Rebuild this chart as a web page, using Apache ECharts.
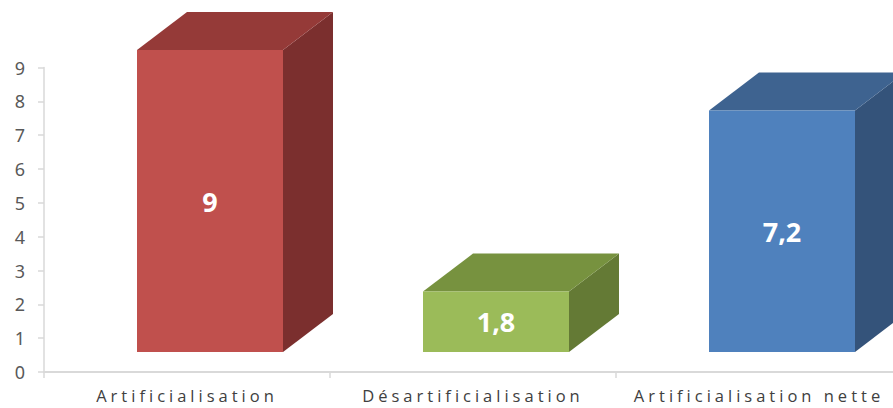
<!DOCTYPE html>
<html>
<head>
<meta charset="utf-8">
<script src="https://cdn.jsdelivr.net/npm/echarts@6/dist/echarts.min.js"></script>
<style>
  html, body { margin: 0; padding: 0; background: #fff; }
  #c { width: 893px; height: 408px; }
  #c text[style*="Open Sans"], #c text[font-family*="Open Sans"] { letter-spacing: 4px; }
</style>
</head>
<body>
<div id="c"></div>
<script>
const categories = ['Artificialisation', 'Désartificialisation', 'Artificialisation nette'];
const values = [9, 1.8, 7.2];
const valueLabels = ['9', '1,8', '7,2'];
const yTicks = ['0','1','2','3','4','5','6','7','8','9'];

const palette = [
  { front: '#C0504D', top: '#953A38', side: '#7B2F2E' },
  { front: '#9BBB59', top: '#77923F', side: '#647A35' },
  { front: '#4F81BD', top: '#3E6390', side: '#34537A' }
];

const chart = echarts.init(document.getElementById('c'), null, { renderer: 'svg' });

const DX = 50, DY = -38, LIFT = 20, SCALE = 302 / 304.5;

chart.setOption({
  animation: false,
  grid: { left: 44, width: 858, top: 67.5, bottom: 36, outerBoundsMode: 'none' },
  xAxis: {
    type: 'category',
    data: categories,
    axisLine: { lineStyle: { color: '#D9D9D9', width: 2 } },
    axisTick: { show: true, length: 6, lineStyle: { color: '#D9D9D9', width: 1.5 } },
    axisLabel: { color: '#404040', fontSize: 16.5, fontFamily: 'Open Sans', margin: 15, interval: 0 }
  },
  yAxis: {
    type: 'value',
    min: 0, max: 9, interval: 1,
    axisLine: { show: true, lineStyle: { color: '#D9D9D9', width: 1.5 } },
    axisTick: { show: true, length: 6, lineStyle: { color: '#D9D9D9', width: 1.5 } },
    splitLine: { show: false },
    axisLabel: { color: '#595959', fontSize: 18, fontFamily: 'Noto Sans', margin: 19,
      formatter: (v) => yTicks[v] !== undefined ? yTicks[v] : String(v) }
  },
  series: [{
    type: 'custom',
    clip: false,
    data: values.map((v, i) => [i, v]),
    renderItem: function (params, api) {
      const i = api.value(0);
      const v = api.value(1);
      const p0 = api.coord([i, 0]);
      const p1 = api.coord([i, v]);
      const cx = p0[0];
      const bottom = p0[1] - LIFT;
      const top = bottom - (p0[1] - p1[1]) * SCALE;
      const left = cx - 50, right = cx + 96;
      const c = palette[i];
      return {
        type: 'group',
        children: [
          { type: 'polygon', shape: { points: [[right, top], [right + DX, top + DY], [right + DX, bottom + DY], [right, bottom]] },
            style: { fill: c.side } },
          { type: 'polygon', shape: { points: [[left, top], [left + DX, top + DY], [right + DX, top + DY], [right, top]] },
            style: { fill: c.top } },
          { type: 'rect', shape: { x: left, y: top, width: right - left, height: bottom - top },
            style: { fill: c.front } },
          { type: 'text', x: (left + right) / 2, y: (top + bottom) / 2,
            style: { text: valueLabels[i], fill: '#fff', fontSize: 27, fontWeight: 'bold', fontFamily: 'Noto Sans',
              align: 'center', verticalAlign: 'middle' } }
        ]
      };
    }
  }]
});
</script>
</body>
</html>
